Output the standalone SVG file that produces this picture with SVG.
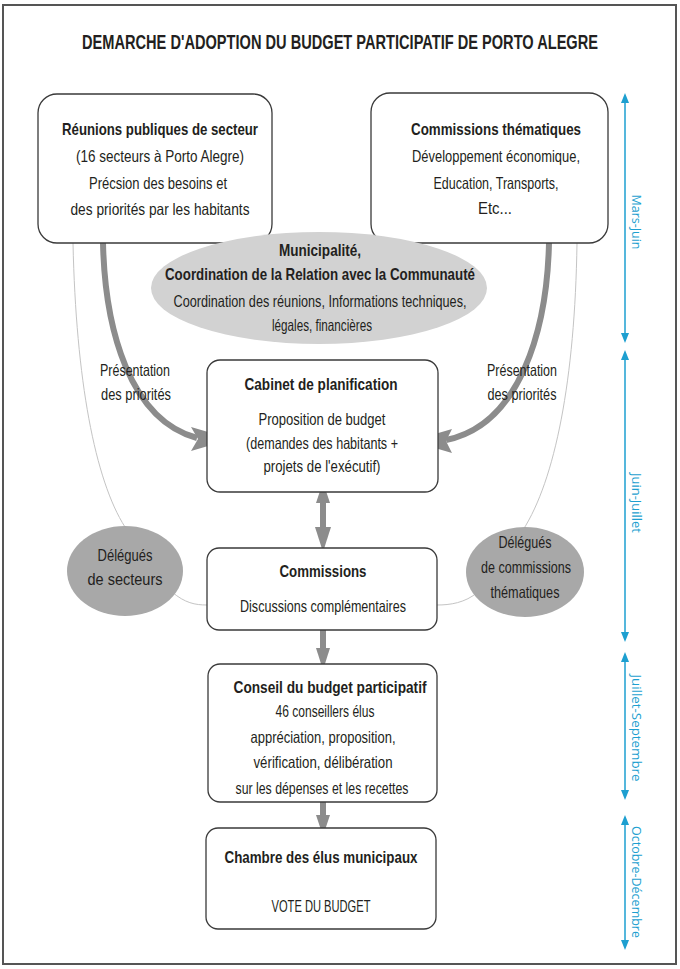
<svg xmlns="http://www.w3.org/2000/svg" width="680" height="969" viewBox="0 0 680 969">
<defs>
<style>
.frame{fill:#fff;stroke:#555;stroke-width:2}
.box{fill:#fff;stroke:#3a3a3a;stroke-width:1.3}
.t{font-family:"Liberation Sans Narrow","Liberation Sans",Arial,sans-serif;font-size:16.5px;fill:#231f20;text-anchor:middle}
.b{font-weight:bold}
.ttl{font-size:20px}
.thick{fill:none;stroke:#8c8c8c;stroke-width:6}
.thin{fill:none;stroke:#c4c4c4;stroke-width:1}
.ah{fill:#8c8c8c}
.tl{stroke:#1d9fd0;stroke-width:1.5;fill:none}
.tla{fill:#1d9fd0}
.tlt{font-family:"Open Sans","Liberation Sans",sans-serif;font-size:12px;fill:#1d9fd0;text-anchor:middle}
</style>
</defs>
<rect class="frame" x="3" y="5" width="673" height="959"/>
<text class="t b ttl" transform="translate(340,49) scale(0.75,1)" x="0" y="0" textLength="688" lengthAdjust="spacingAndGlyphs">DEMARCHE D'ADOPTION DU BUDGET PARTICIPATIF DE PORTO ALEGRE</text>

<g id="connectors">
<path class="thin" d="M73,243 C76,380 95,480 125,527"/>
<path class="thin" d="M172,592 C185,603 195,605 207,605"/>
<path class="thin" d="M577,243 C575,380 555,480 523,530"/>
<path class="thin" d="M478,592 C465,603 450,605 437,605"/>
<path class="thick" d="M103,243 C105,330 130,420 197,438"/>
<polygon class="ah" points="232,439 191,427 198,439 191,451"/>
<path class="thick" d="M549,243 C547,330 520,425 446,440"/>
<polygon class="ah" points="411,441 452,429 446,441 452,453"/>
<line class="thick" x1="323" y1="500" x2="323" y2="530"/>
<polygon class="ah" points="323,482 316,503 330,503"/>
<polygon class="ah" points="315,527 331,527 323,552"/>
<line class="thick" x1="323" y1="626" x2="323" y2="650"/>
<polygon class="ah" points="316,648 330,648 323,670"/>
<line class="thick" x1="323" y1="797" x2="323" y2="817"/>
<polygon class="ah" points="316,815 330,815 323,836"/>
</g>

<g id="n-reunions">
<rect class="box" x="38" y="94" width="234" height="149" rx="19"/>
<text class="t b" x="160" y="135" textLength="196" lengthAdjust="spacingAndGlyphs">Réunions publiques de secteur</text>
<text class="t" x="160" y="162" textLength="168" lengthAdjust="spacingAndGlyphs">(16 secteurs à Porto Alegre)</text>
<text class="t" x="158" y="189" textLength="138" lengthAdjust="spacingAndGlyphs">Précsion des besoins et</text>
<text class="t" x="160" y="215" textLength="179" lengthAdjust="spacingAndGlyphs">des priorités par les habitants</text>
</g>

<g id="n-commissions-thematiques">
<rect class="box" x="371" y="93" width="237" height="150" rx="19"/>
<text class="t b" x="496" y="135" textLength="170" lengthAdjust="spacingAndGlyphs">Commissions thématiques</text>
<text class="t" x="496" y="162" textLength="168" lengthAdjust="spacingAndGlyphs">Développement économique,</text>
<text class="t" x="496" y="189" textLength="125" lengthAdjust="spacingAndGlyphs">Education, Transports,</text>
<text class="t" x="495" y="214" textLength="34" lengthAdjust="spacingAndGlyphs">Etc...</text>
</g>

<g id="n-municipalite">
<ellipse cx="319" cy="288" rx="168" ry="56" fill="#d2d2d2"/>
<text class="t b" x="320" y="256" textLength="82" lengthAdjust="spacingAndGlyphs">Municipalité,</text>
<text class="t b" x="320" y="280" textLength="310" lengthAdjust="spacingAndGlyphs">Coordination de la Relation avec la Communauté</text>
<text class="t" x="320" y="307" textLength="293" lengthAdjust="spacingAndGlyphs">Coordination des réunions, Informations techniques,</text>
<text class="t" x="322" y="331" textLength="100" lengthAdjust="spacingAndGlyphs">légales, financières</text>
</g>

<g id="l-presentation-gauche">
<text class="t" x="135" y="376" textLength="70" lengthAdjust="spacingAndGlyphs">Présentation</text>
<text class="t" x="136" y="400" textLength="70" lengthAdjust="spacingAndGlyphs">des priorités</text>
</g>
<g id="l-presentation-droite">
<text class="t" x="522" y="376" textLength="70" lengthAdjust="spacingAndGlyphs">Présentation</text>
<text class="t" x="522" y="400" textLength="69" lengthAdjust="spacingAndGlyphs">des priorités</text>
</g>

<g id="n-cabinet">
<rect class="box" x="207" y="360" width="231" height="132" rx="13"/>
<text class="t b" x="321" y="390" textLength="153" lengthAdjust="spacingAndGlyphs">Cabinet de planification</text>
<text class="t" x="322" y="425" textLength="127" lengthAdjust="spacingAndGlyphs">Proposition de budget</text>
<text class="t" x="322" y="449" textLength="152" lengthAdjust="spacingAndGlyphs">(demandes des habitants +</text>
<text class="t" x="322" y="472" textLength="117" lengthAdjust="spacingAndGlyphs">projets de l'exécutif)</text>
</g>

<g id="n-delegues-secteurs">
<ellipse cx="125" cy="571" rx="58" ry="45" fill="#a8a8a8"/>
<text class="t" x="125" y="561" textLength="55" lengthAdjust="spacingAndGlyphs">Délégués</text>
<text class="t" x="125" y="585" textLength="75" lengthAdjust="spacingAndGlyphs">de secteurs</text>
</g>

<g id="n-delegues-commissions">
<ellipse cx="525" cy="572" rx="59" ry="45" fill="#a8a8a8"/>
<text class="t" x="525" y="548" textLength="53" lengthAdjust="spacingAndGlyphs">Délégués</text>
<text class="t" x="526" y="573" textLength="90" lengthAdjust="spacingAndGlyphs">de commissions</text>
<text class="t" x="525" y="598" textLength="69" lengthAdjust="spacingAndGlyphs">thématiques</text>
</g>

<g id="n-commissions">
<rect class="box" x="207" y="548" width="230" height="82" rx="12"/>
<text class="t b" x="323" y="577" textLength="87" lengthAdjust="spacingAndGlyphs">Commissions</text>
<text class="t" x="323" y="612" textLength="166" lengthAdjust="spacingAndGlyphs">Discussions complémentaires</text>
</g>

<g id="n-conseil">
<rect class="box" x="208" y="664" width="229" height="138" rx="12"/>
<text class="t b" x="330" y="693" textLength="193" lengthAdjust="spacingAndGlyphs">Conseil du budget participatif</text>
<text class="t" x="325" y="717" textLength="99" lengthAdjust="spacingAndGlyphs">46 conseillers élus</text>
<text class="t" x="323" y="743" textLength="145" lengthAdjust="spacingAndGlyphs">appréciation, proposition,</text>
<text class="t" x="323" y="768" textLength="139" lengthAdjust="spacingAndGlyphs">vérification, délibération</text>
<text class="t" x="322" y="794" textLength="173" lengthAdjust="spacingAndGlyphs">sur les dépenses et les recettes</text>
</g>

<g id="n-chambre">
<rect class="box" x="206" y="828" width="230" height="101" rx="12"/>
<text class="t b" x="321" y="863" textLength="193" lengthAdjust="spacingAndGlyphs">Chambre des élus municipaux</text>
<text class="t" x="321" y="912" textLength="99" lengthAdjust="spacingAndGlyphs">VOTE DU BUDGET</text>
</g>

<g id="timeline">
<line class="tl" x1="625" y1="98" x2="625" y2="338"/>
<polygon class="tla" points="625,93 621,103 629,103"/>
<polygon class="tla" points="625,343 621,333 629,333"/>
<line class="tl" x1="625" y1="355" x2="625" y2="637"/>
<polygon class="tla" points="625,350 621,360 629,360"/>
<polygon class="tla" points="625,642 621,632 629,632"/>
<line class="tl" x1="625" y1="657" x2="625" y2="795"/>
<polygon class="tla" points="625,652 621,662 629,662"/>
<polygon class="tla" points="625,800 621,790 629,790"/>
<line class="tl" x1="625" y1="820" x2="625" y2="945"/>
<polygon class="tla" points="625,815 621,825 629,825"/>
<polygon class="tla" points="625,950 621,940 629,940"/>
<text class="tlt" transform="translate(632,222) rotate(90)" textLength="55" lengthAdjust="spacingAndGlyphs">Mars-Juin</text>
<text class="tlt" transform="translate(632,503) rotate(90)" textLength="60" lengthAdjust="spacingAndGlyphs">Juin-Juillet</text>
<text class="tlt" transform="translate(632,728) rotate(90)" textLength="107" lengthAdjust="spacingAndGlyphs">Juillet-Septembre</text>
<text class="tlt" transform="translate(632,882) rotate(90)" textLength="112" lengthAdjust="spacingAndGlyphs">Octobre-Décembre</text>
</g>
</svg>
